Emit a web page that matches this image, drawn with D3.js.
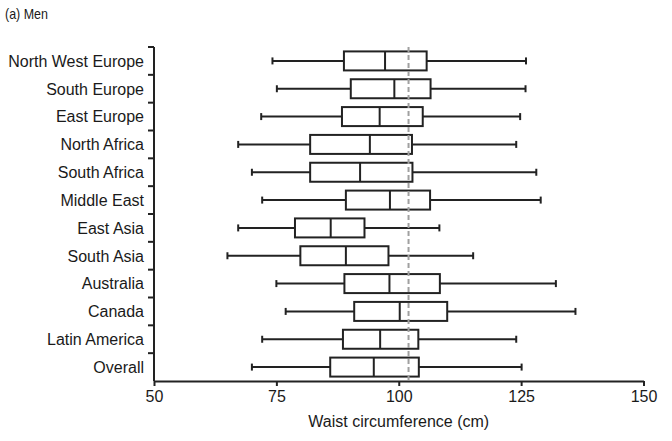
<!DOCTYPE html>
<html>
<head>
<meta charset="utf-8">
<script src="https://cdn.jsdelivr.net/npm/d3@7"></script>
<style>
  body { margin: 0; background: #fff; }
  text { font-family: "Liberation Sans", Arial, sans-serif; fill: #1a1a1a; }
</style>
</head>
<body>
<svg width="672" height="441"></svg>
<script>
var regions = ['North West Europe', 'South Europe', 'East Europe', 'North Africa',
               'South Africa', 'Middle East', 'East Asia', 'South Asia',
               'Australia', 'Canada', 'Latin America', 'Overall'];
var whiskerLow  = [74.2, 75.1, 71.9, 67.2, 70.0, 72.1, 67.2, 65.0, 75.0, 76.9, 72.1, 70.0];
var q1          = [88.8, 90.2, 88.4, 81.9, 81.9, 89.2, 78.8, 79.9, 88.9, 90.9, 88.6, 86.0];
var medians     = [97.2, 99.1, 96.1, 94.1, 92.1, 98.2, 86.1, 89.2, 98.1, 100.2, 96.2, 94.9];
var q3          = [105.7, 106.5, 104.9, 102.7, 102.8, 106.4, 93.0, 97.9, 108.4, 109.9, 104.0, 104.1];
var whiskerHigh = [126.0, 125.9, 124.8, 124.0, 128.1, 129.0, 108.3, 115.2, 132.1, 136.1, 124.0, 125.1];
var xTicks = [50, 75, 100, 125, 150];
var cutoff = 102;

var svg = d3.select('svg'),
    ink = '#222';

var x = d3.scaleLinear().domain([50, 150]).range([154, 643.5]),
    y = d3.scaleBand().domain(regions).range([47, 381]);

var data = regions.map(function(r, i) {
  return { name: r, lo: whiskerLow[i], q1: q1[i], med: medians[i], q3: q3[i], hi: whiskerHigh[i] };
});

svg.append('text')
   .attr('x', 5).attr('y', 19)
   .attr('textLength', 43).attr('lengthAdjust', 'spacingAndGlyphs')
   .style('font-size', '15px')
   .text('(a) Men');

// y axis: ticks at band edges
var yAxis = svg.append('g');
yAxis.append('line')
     .attr('x1', 154).attr('x2', 154)
     .attr('y1', 47).attr('y2', 381)
     .attr('stroke', ink).attr('stroke-width', 2);
yAxis.selectAll('.tk')
     .data(regions)
     .enter().append('line')
     .attr('x1', 148).attr('x2', 154)
     .attr('y1', function(d) { return y(d); })
     .attr('y2', function(d) { return y(d); })
     .attr('stroke', ink).attr('stroke-width', 2);
yAxis.selectAll('text')
     .data(regions)
     .enter().append('text')
     .attr('x', 144)
     .attr('y', function(d) { return y(d) + y.bandwidth() / 2; })
     .attr('dy', '0.36em')
     .attr('text-anchor', 'end')
     .style('font-size', '16px')
     .text(function(d) { return d; });

// x axis
var xAxis = svg.append('g')
               .attr('transform', 'translate(0,381)')
               .call(d3.axisBottom(x).tickValues(xTicks).tickSize(5).tickPadding(5).tickSizeOuter(0));
xAxis.select('.domain').attr('stroke', ink).attr('stroke-width', 2);
xAxis.selectAll('.tick line').attr('stroke', ink).attr('stroke-width', 2);
xAxis.selectAll('.tick text')
     .style('font-size', '16px')
     .style('font-family', '"Liberation Sans", Arial, sans-serif')
     .attr('fill', '#1a1a1a');

svg.append('text')
   .attr('x', x(100)).attr('y', 427)
   .attr('text-anchor', 'middle')
   .style('font-size', '16px')
   .text('Waist circumference (cm)');

// boxes
var boxH = 19, capH = 7;
var rows = svg.append('g').selectAll('g')
              .data(data)
              .enter().append('g')
              .attr('transform', function(d) { return 'translate(0,' + (y(d.name) + y.bandwidth() / 2) + ')'; });

rows.append('line')
    .attr('x1', function(d) { return x(d.lo); })
    .attr('x2', function(d) { return x(d.hi); })
    .attr('stroke', ink).attr('stroke-width', 2);
rows.selectAll('.cap')
    .data(function(d) { return [d.lo, d.hi]; })
    .enter().append('line')
    .attr('x1', function(v) { return x(v); })
    .attr('x2', function(v) { return x(v); })
    .attr('y1', -capH / 2).attr('y2', capH / 2)
    .attr('stroke', ink).attr('stroke-width', 2);
rows.append('rect')
    .attr('x', function(d) { return x(d.q1); })
    .attr('width', function(d) { return x(d.q3) - x(d.q1); })
    .attr('y', -boxH / 2).attr('height', boxH)
    .attr('fill', '#fff')
    .attr('stroke', ink).attr('stroke-width', 2);
rows.append('line')
    .attr('x1', function(d) { return x(d.med); })
    .attr('x2', function(d) { return x(d.med); })
    .attr('y1', -boxH / 2).attr('y2', boxH / 2)
    .attr('stroke', ink).attr('stroke-width', 2);

// reference line
svg.append('line')
   .attr('x1', x(cutoff)).attr('x2', x(cutoff))
   .attr('y1', 47).attr('y2', 381)
   .attr('stroke', '#a0a0a0').attr('stroke-width', 2)
   .attr('stroke-dasharray', '5,3');
</script>
</body>
</html>
